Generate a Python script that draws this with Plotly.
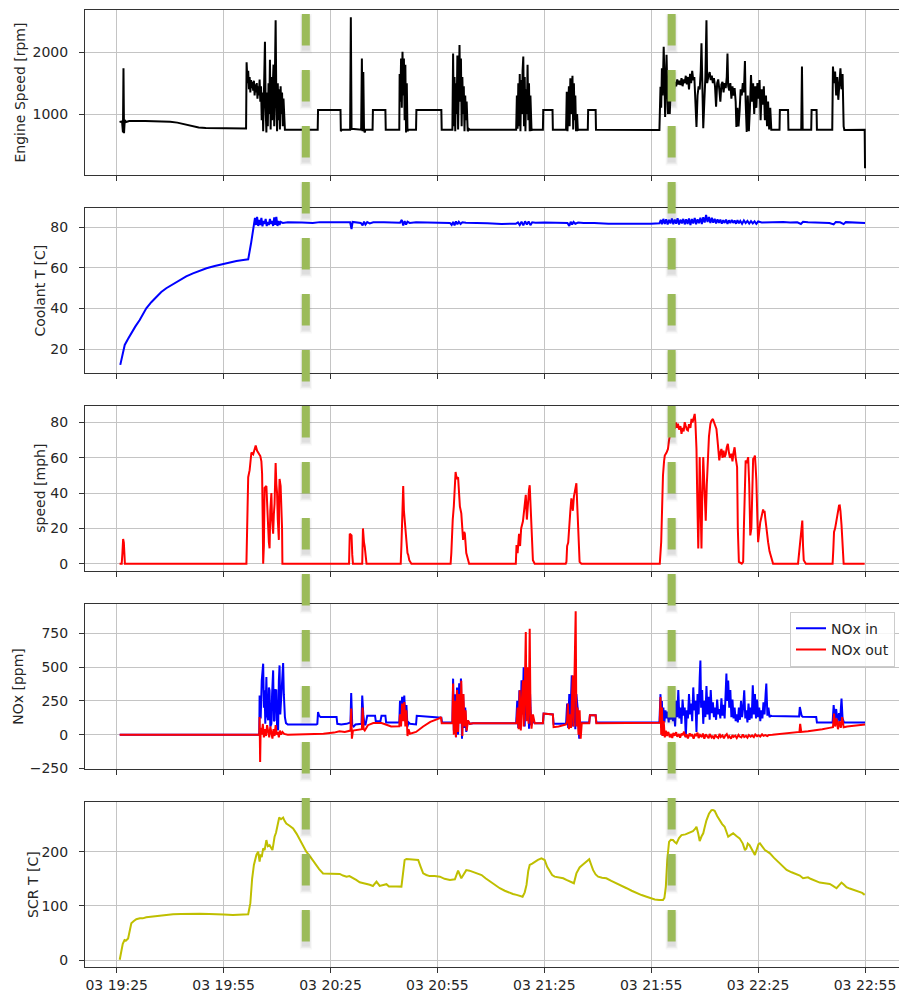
import pandas as pd
import plotly.graph_objects as go
from plotly.subplots import make_subplots

# ---------------------------------------------------------------- geometry
FIG_W, FIG_H = 899, 992
PLOT_LEFT = 85            # px, left edge of the plotting area
PANEL_TOP0 = 10           # px, top of the first panel
PANEL_STEP = 198.1        # px between the tops of consecutive panels
PANEL_H = 165             # px, height of one panel

START = pd.Timestamp("2020-03-03 19:25:00")
X_RANGE = ["2020-03-03 19:16:06", "2020-03-03 23:04:32"]
x_tick_times = pd.date_range("2020-03-03 19:25", "2020-03-03 22:55", freq="30min")
x_tick_text = [t.strftime("%d %H:%M") for t in x_tick_times]

# ---------------------------------------------------------------- data
# every series: (minutes after 19:25, value)
engine_rpm = [
    (0.8, 870), (1.5, 880), (1.75, 700), (1.9, 1740), (2.05, 690), (2.25, 900), (2.6, 870),
    (3.5, 885), (8, 885), (12, 882), (15, 875), (17, 860), (19, 830), (21, 800), (23, 782),
    (25, 772), (30, 768), (36.3, 765),
    (36.45, 1840), (36.7, 1500), (36.9, 1700), (37.1, 1400), (37.3, 1600), (37.5, 1350),
    (37.7, 1550), (37.9, 1420), (38.1, 1520), (38.3, 1380), (38.5, 1540), (38.7, 1300),
    (38.9, 1480), (39.1, 1350), (39.3, 1500), (39.5, 1250), (39.7, 1450), (39.9, 1300),
    (40.1, 1560), (40.3, 1200), (40.5, 1450), (40.7, 900), (40.9, 1350), (41.1, 720),
    (41.3, 1300), (41.6, 2170), (41.8, 1100), (42.0, 700), (42.2, 1350), (42.4, 800),
    (42.6, 1500), (42.8, 1000), (43.0, 1880), (43.2, 750), (43.4, 1600), (43.6, 900),
    (43.8, 1450), (44.0, 1800), (44.2, 800), (44.4, 1700), (44.6, 2520), (44.8, 1200),
    (45.0, 720), (45.2, 1500), (45.4, 900), (45.6, 1400), (45.8, 750), (46.0, 1450),
    (46.2, 1000), (46.4, 1350), (46.6, 800), (46.8, 1250), (47.0, 760), (47.2, 745),
    (56.4, 745), (56.5, 1065), (62.8, 1065), (62.9, 720), (63.2, 745), (65.5, 745),
    (65.7, 2570), (65.9, 760), (68.6, 745), (68.8, 1900), (69.0, 720), (69.2, 1680),
    (69.4, 740), (69.6, 700), (69.8, 745), (71.8, 745), (71.9, 1065), (75.4, 1065),
    (75.5, 745), (79.3, 745),
    (79.4, 1650), (79.6, 1200), (79.8, 1900), (80.0, 1100), (80.2, 2010), (80.4, 1300),
    (80.6, 1900), (80.8, 900), (81.0, 1800), (81.2, 700), (81.4, 1500), (81.6, 720),
    (81.8, 745), (84.0, 745), (84.1, 1065), (91.1, 1065), (91.2, 745), (94.2, 745),
    (94.4, 1980), (94.6, 800), (94.8, 1600), (95.0, 720), (95.2, 1500), (95.4, 1000),
    (95.6, 1950), (95.8, 750), (96.0, 1750), (96.2, 2120), (96.4, 1200), (96.6, 1900),
    (96.8, 800), (97.0, 1600), (97.2, 1000), (97.4, 1450), (97.6, 720), (97.8, 1300),
    (98.0, 900), (98.2, 1200), (98.5, 720), (98.8, 760), (99.1, 745), (112.1, 745),
    (112.3, 1300), (112.5, 760), (112.7, 1500), (112.9, 800), (113.1, 1650), (113.3, 720),
    (113.5, 1550), (113.7, 1000), (113.9, 1700), (114.1, 1930), (114.3, 800), (114.5, 1600),
    (114.7, 720), (114.9, 1400), (115.1, 1000), (115.3, 1800), (115.5, 900), (115.7, 1500),
    (115.9, 720), (116.1, 1300), (116.4, 740), (116.8, 745), (119.6, 745), (119.7, 1065),
    (122.3, 1065), (122.4, 745), (126.1, 745),
    (126.3, 1360), (126.5, 720), (126.7, 1200), (126.9, 1450), (127.1, 800), (127.3, 1580),
    (127.5, 1000), (127.7, 1400), (127.9, 1620), (128.1, 750), (128.3, 1500), (128.5, 900),
    (128.7, 1300), (128.9, 720), (129.2, 1000), (129.4, 740), (129.6, 745), (132.2, 745),
    (132.3, 1065), (134.4, 1065), (134.5, 745), (152.3, 740),
    (152.6, 1440), (152.8, 1100), (153.0, 1740), (153.2, 1300), (153.5, 2090), (153.7, 1600),
    (153.9, 950), (154.1, 1500), (154.3, 1960), (154.5, 1400), (154.7, 1000), (154.9, 1600),
    (155.2, 1000), (155.5, 1450), (155.8, 1250), (156.1, 1550), (156.4, 1400), (156.7, 1520),
    (157.0, 1450), (157.3, 1560), (157.6, 1480), (157.9, 1540), (158.2, 1470), (158.5, 1580),
    (158.8, 1450), (159.1, 1560), (159.4, 1500), (159.7, 1620), (160.0, 1480), (160.3, 1600),
    (160.6, 1400), (160.9, 1650), (161.2, 1500), (161.5, 1700), (161.8, 1550), (162.1, 1600),
    (162.4, 1100), (162.7, 790), (163.0, 1300), (163.3, 1450), (163.6, 1400), (163.9, 1700),
    (164.1, 2145), (164.3, 1300), (164.6, 770), (164.9, 1200), (165.2, 1600), (165.5, 2520),
    (165.7, 1500), (166.0, 1600), (166.4, 1680), (166.7, 1550), (167.0, 1620), (167.3, 1500),
    (167.6, 1580), (167.9, 1450), (168.2, 1120), (168.5, 1500), (168.8, 1560), (169.1, 1400),
    (169.4, 1200), (169.7, 1480), (170.0, 1520), (170.3, 1350), (170.6, 1500), (170.9, 1420),
    (171.2, 1600), (171.4, 1980), (171.6, 1450), (171.9, 1380), (172.2, 1500), (172.5, 1250),
    (172.8, 1450), (173.1, 1300), (173.4, 1420), (173.7, 1200), (173.9, 790), (174.2, 1100),
    (174.5, 800), (174.8, 1050), (175.1, 1400), (175.4, 1300), (175.7, 1500), (176.0, 1350),
    (176.3, 1860), (176.5, 1200), (176.8, 710), (177.1, 1300), (177.4, 720), (177.7, 1100),
    (178.0, 1630), (178.3, 1200), (178.6, 1500), (178.9, 1000), (179.2, 1450), (179.5, 1100),
    (179.8, 1500), (180.1, 1250), (180.4, 1550), (180.7, 900), (181.0, 1400), (181.3, 1150),
    (181.6, 1450), (181.9, 900), (182.2, 1300), (182.5, 800), (182.8, 1200), (183.1, 750),
    (183.4, 1100), (183.7, 745),
    (186.0, 745), (186.1, 1065), (188.4, 1065), (188.5, 745), (192.1, 745), (192.3, 1770),
    (192.5, 745), (194.9, 745), (195.0, 1065), (196.4, 1065), (196.5, 745), (200.8, 745),
    (201.0, 1770), (201.3, 1500), (201.6, 1690), (201.9, 1300), (202.2, 1600), (202.5, 1230),
    (202.8, 1500), (203.1, 1740), (203.4, 1400), (203.7, 1650), (204.0, 800), (204.2, 740),
    (209.9, 745), (210.0, 120),
]

coolant_c = [
    (1.0, 12.2), (1.5, 16), (2.25, 22), (3.2, 25), (4.1, 27.8), (5.2, 31), (6.45, 34.3),
    (7.3, 37), (8.3, 40), (9.7, 43), (11.1, 45.7), (12.5, 48), (13.9, 49.9), (15.8, 52),
    (17.7, 54), (19.5, 55.7), (21.4, 57.2), (23.3, 58.5), (25.2, 59.7), (27.5, 60.8),
    (29.8, 61.8), (31.7, 62.6), (33.6, 63.3), (35.5, 63.8), (36.9, 64.1), (37.7, 72),
    (38.5, 82.1), (38.8, 84.5), (39.1, 81), (39.4, 85), (39.7, 80.5), (40.0, 83.5),
    (40.3, 81), (40.6, 84.5), (40.9, 80.3), (41.2, 83), (41.5, 81.5), (41.8, 84), (42.1, 80.5),
    (42.4, 82.5), (42.7, 81), (43.0, 84), (43.3, 81.5), (43.6, 83), (43.9, 80.5), (44.2, 84.7),
    (44.5, 81), (44.8, 85), (45.1, 80.5), (45.4, 83), (45.7, 81), (46.0, 82.5), (46.6, 82),
    (48, 82.3), (52, 82.2), (55, 82.0), (57, 82.4), (60, 82.5), (63, 82.4), (65.5, 82.3),
    (65.9, 79), (66.2, 82.5), (67, 82.3), (68.5, 82.0), (69.0, 80.8), (69.4, 82.6),
    (69.8, 81.2), (70.3, 82.4), (71, 81.8), (72, 82.3), (75, 82.3), (79.5, 82.1), (80.0, 83.5),
    (80.4, 80.8), (80.8, 82.9), (81.2, 81.2), (81.6, 82.6), (82.2, 82.0), (84, 82.3),
    (90, 82.2), (93.5, 82.0), (94.0, 81), (94.4, 82.5), (94.8, 80.8), (95.2, 82.8),
    (95.6, 81.3), (96.0, 82.6), (96.5, 81.5), (97.0, 82.3), (98, 82.1), (100, 82.1),
    (104, 81.8), (108, 81.5), (112, 81.6), (112.6, 82.3), (113.1, 81.0), (113.6, 82.6),
    (114.1, 80.8), (114.6, 82.8), (115.1, 81.2), (115.6, 82.7), (116.1, 80.9), (116.6, 82.3),
    (117.5, 82.1), (120, 82.2), (124, 82.2), (126.5, 82.0), (127.0, 80.5), (127.4, 82.6),
    (127.8, 81.2), (128.2, 82.5), (128.7, 81.6), (129.5, 82.2), (131, 82.0), (134, 82.0),
    (138, 81.6), (142, 81.5), (146, 81.5), (150, 81.6), (152.3, 81.8), (152.7, 83.5),
    (153.0, 81.3), (153.4, 84.0), (153.8, 81.5), (154.2, 83.8), (154.6, 81.2), (155.0, 83.5),
    (155.4, 81.8), (155.8, 84.2), (156.2, 81.4), (156.6, 83.7), (157.0, 81.6), (157.4, 84.3),
    (157.8, 81.2), (158.2, 83.6), (158.6, 81.8), (159.0, 84.0), (159.4, 81.3), (159.8, 83.8),
    (160.2, 81.5), (160.6, 84.2), (161.0, 81.0), (161.4, 83.9), (161.8, 81.7), (162.2, 84.4),
    (162.6, 81.4), (163.0, 83.8), (163.4, 81.9), (163.8, 84.6), (164.2, 81.5), (164.6, 84.8),
    (165.0, 82.2), (165.4, 85.9), (165.8, 82.5), (166.2, 84.9), (166.6, 82.0), (167.0, 84.5),
    (167.4, 82.1), (167.8, 84.0), (168.2, 81.8), (168.6, 83.8), (169.0, 82.0), (169.4, 83.6),
    (169.8, 81.7), (170.2, 83.4), (170.6, 82.0), (171.0, 83.6), (171.4, 81.5), (171.8, 83.3),
    (172.2, 81.9), (172.6, 83.5), (173.0, 82.0), (173.4, 83.2), (173.8, 81.6), (174.2, 83.4),
    (174.6, 81.8), (175.0, 83.0), (175.5, 81.6), (176.0, 83.2), (176.5, 81.9), (177.0, 83.0),
    (177.5, 81.7), (178.0, 82.9), (178.5, 81.8), (179.0, 82.8), (179.5, 81.6), (180.0, 82.7),
    (181.0, 82.2), (183, 82.4), (185, 82.3), (187, 82.5), (189, 82.2), (191, 82.3),
    (192, 81.5), (192.6, 82.6), (194, 82.3), (196, 82.2), (198, 82.3), (200, 82.0),
    (201.2, 81.3), (201.8, 82.5), (203, 82.3), (204.0, 81.4), (204.6, 82.4), (206, 82.3),
    (208, 82.1), (210, 82.0),
]

vehicle_mph = [
    (0.8, 0), (1.4, 0), (1.6, 6), (1.8, 14), (2.0, 12), (2.3, 0), (36.4, 0), (36.6, 30),
    (36.9, 49), (37.3, 53), (37.8, 63), (38.3, 62), (38.6, 65), (39.0, 67), (39.4, 64),
    (39.7, 63), (40.0, 62), (40.3, 61), (40.6, 58), (40.8, 51), (41.0, 20), (41.1, 0),
    (41.3, 10), (41.5, 43), (42.0, 44), (42.25, 25), (42.5, 21), (42.7, 12), (42.9, 8.7),
    (43.1, 30), (43.4, 40), (43.6, 25), (43.9, 17), (44.1, 28), (44.3, 34), (44.5, 50),
    (44.6, 57), (44.8, 45), (45.0, 40), (45.2, 25), (45.5, 13.5), (45.6, 40), (45.7, 48),
    (46.0, 44), (46.2, 36), (46.4, 20), (46.5, 0), (47.2, 0),
    (65.2, 0), (65.4, 17), (65.9, 16), (66.1, 5), (66.3, 0), (68.9, 0), (69.1, 20), (69.4, 12),
    (69.6, 9.6), (70.1, 0), (79.7, 0), (79.9, 10.6), (80.2, 30), (80.4, 44), (80.6, 30),
    (80.8, 23), (81.1, 15), (81.3, 13), (81.6, 6), (81.8, 5), (82.1, 2), (82.7, 0),
    (93.7, 0), (93.9, 6), (94.3, 25), (94.6, 32.5), (95.1, 52), (95.4, 48), (95.8, 49),
    (96.1, 40), (96.3, 32.5), (96.7, 28.5), (96.9, 20), (97.2, 13.5), (97.5, 18), (97.7, 17),
    (98.1, 6), (98.5, 3), (98.9, 0), (112.0, 0), (112.2, 10.6), (112.5, 6), (112.9, 17),
    (113.2, 10), (113.5, 20), (114.0, 24), (114.3, 30), (114.6, 36), (114.8, 39), (115.1, 25),
    (115.4, 35), (115.7, 42), (115.9, 44.5), (116.2, 30), (116.4, 14.4), (116.8, 2),
    (117.3, 0), (126.0, 0), (126.2, 1), (126.4, 10), (126.7, 12), (127.0, 25), (127.3, 30),
    (127.6, 37), (128.0, 30), (128.3, 38), (128.5, 41), (128.8, 44), (129.0, 45.6),
    (129.2, 35), (129.5, 20), (129.9, 1), (130.4, 0),
    (152.4, 0), (152.8, 12.3), (153.0, 30), (153.3, 50), (153.6, 58), (153.8, 61.3),
    (154.3, 63), (154.7, 65), (155.0, 70), (155.3, 74), (155.7, 77.4), (156.0, 75),
    (156.3, 78), (156.6, 76.4), (156.9, 80), (157.2, 77), (157.5, 79.3), (157.8, 76),
    (158.2, 78), (158.5, 73.6), (158.8, 77), (159.1, 75), (159.4, 80.2), (159.7, 78),
    (160.0, 76), (160.3, 75.5), (160.6, 79), (161.0, 77), (161.3, 82), (161.6, 80),
    (161.9, 83), (162.2, 84.9), (162.4, 80), (162.7, 65), (162.9, 40), (163.1, 15),
    (163.2, 8.6), (163.4, 30), (163.6, 60.4), (163.8, 40), (164.0, 15), (164.1, 8.6),
    (164.3, 35), (164.6, 60.4), (164.9, 45), (165.1, 30), (165.3, 24.4), (165.6, 45),
    (165.9, 62.3), (166.2, 72), (166.6, 79.2), (166.9, 81), (167.3, 82), (167.6, 80),
    (167.9, 79), (168.3, 76.4), (168.6, 70), (168.8, 64), (169.1, 58.5), (169.4, 63),
    (169.7, 65), (170.0, 60), (170.3, 64), (170.6, 60.4), (170.9, 62), (171.2, 66),
    (171.5, 67.9), (171.8, 63), (172.1, 60), (172.5, 62.3), (172.8, 58), (173.1, 63),
    (173.4, 66), (173.7, 60), (173.9, 57), (174.1, 54.7), (174.3, 20), (174.5, 2), (174.6, 1),
    (175.4, 0), (175.8, 1), (176.0, 20), (176.2, 45), (176.5, 58.5), (176.8, 57), (177.2, 60.4),
    (177.5, 45), (177.8, 16), (178.1, 20), (178.3, 45), (178.6, 59.4), (178.9, 60),
    (179.1, 61.3), (179.3, 55), (179.5, 47.2), (179.8, 25), (180.0, 12.2), (180.3, 18),
    (180.6, 23.5), (181.0, 27), (181.4, 30.8), (181.6, 29), (181.8, 30), (182.0, 26),
    (182.3, 20), (182.5, 15), (182.8, 12.2), (183.2, 7), (183.5, 4.7), (183.8, 2), (184.2, 0),
    (191.2, 0), (191.5, 6), (191.7, 12.2), (192.0, 18), (192.4, 24.4), (192.6, 10),
    (192.8, 2), (193.4, 0), (200.9, 0), (201.1, 8), (201.3, 18), (201.6, 20), (202.0, 25.4),
    (202.3, 28), (202.7, 32.9), (202.9, 33), (203.1, 30), (203.4, 22), (203.7, 6.6),
    (204.0, 0), (209.9, 0),
]

nox_in_ppm = [
    (0.84, 0), (40.0, 0), (40.1, 290), (40.4, 120), (40.7, 400), (41.1, 526), (41.3, 200),
    (41.5, 328), (41.7, 80), (42.0, 427), (42.2, 150), (42.5, 106), (42.7, 350), (42.9, 328),
    (43.1, 60), (43.4, 81), (43.6, 300), (43.9, 476), (44.1, 100), (44.3, 106), (44.5, 330),
    (44.8, 328), (45.0, 60), (45.3, 32), (45.5, 400), (45.7, 513), (45.9, 150), (46.2, 308),
    (46.4, 480), (46.7, 530), (46.9, 300), (47.2, 130), (47.5, 85), (48.0, 75), (56.0, 75),
    (56.3, 80), (56.5, 167), (56.8, 140), (57.2, 130), (61.7, 130), (61.9, 80), (63.0, 75),
    (64.5, 80), (65.6, 90), (65.8, 308), (66.1, 70), (66.5, 60), (67.0, 75), (68.7, 80),
    (68.9, 289), (69.2, 150), (69.5, 80), (69.8, 70), (70.3, 140), (72.5, 140), (72.7, 100),
    (74.0, 100), (74.3, 140), (75.4, 140), (75.6, 90), (79.3, 90), (79.5, 250), (79.8, 150),
    (80.1, 280), (80.4, 200), (80.7, 290), (81.0, 100), (81.3, 220), (81.6, 60), (81.9, 90),
    (82.3, 80), (84.0, 75), (84.2, 140), (90.7, 130), (91.1, 125), (91.3, 90), (94.2, 90),
    (94.4, 415), (94.6, 30), (94.9, 300), (95.2, -20), (95.5, 350), (95.8, 0), (96.1, 380),
    (96.3, 100), (96.6, 415), (96.9, -30), (97.2, 300), (97.5, 50), (97.8, 200), (98.1, 20),
    (98.5, 106), (99.0, 80), (100.0, 85), (112.1, 85), (112.4, 250), (112.7, 50), (113.0, 328),
    (113.3, 44), (113.6, 402), (113.9, 150), (114.2, 500), (114.5, 60), (114.8, 420),
    (115.1, 200), (115.4, 434), (115.7, 44), (116.0, 300), (116.3, 70), (116.8, 100),
    (117.3, 85), (119.6, 85), (119.8, 156), (122.4, 150), (122.6, 80), (126.1, 80),
    (126.4, 230), (126.7, 50), (127.0, 300), (127.3, 120), (127.7, 439), (128.0, 60),
    (128.4, 250), (128.7, 40), (129.0, 300), (129.4, 180), (129.8, -30), (130.3, 90),
    (132.6, 90), (132.8, 143), (134.4, 143), (134.6, 90), (152.3, 90),
    (152.6, 300), (152.8, 50), (153.0, 250), (153.2, -10), (153.4, 200), (153.7, 90),
    (154.0, 180), (154.3, 120), (154.6, 170), (154.9, 90), (155.2, 220), (155.5, 110),
    (155.8, 280), (156.1, 100), (156.4, 180), (156.7, 60), (157.0, 250), (157.3, 130),
    (157.6, 330), (157.9, 120), (158.2, 200), (158.5, 80), (158.8, 260), (159.1, 140),
    (159.4, 200), (159.7, -20), (160.0, 180), (160.3, 120), (160.6, 300), (160.9, 150),
    (161.2, 230), (161.5, 100), (161.8, 350), (162.1, 180), (162.4, 250), (162.7, 20),
    (163.0, 300), (163.3, 150), (163.6, 420), (163.8, 550), (164.0, 200), (164.3, 330),
    (164.6, 80), (164.9, 250), (165.2, 130), (165.5, 360), (165.8, 150), (166.1, 280),
    (166.4, 110), (166.7, 330), (167.0, 160), (167.3, 240), (167.6, 130), (167.9, 200),
    (168.2, 110), (168.5, 260), (168.8, 150), (169.1, 190), (169.4, 120), (169.7, 270),
    (170.0, 140), (170.3, 220), (170.6, 120), (170.9, 380), (171.1, 452), (171.3, 250),
    (171.6, 400), (171.9, 200), (172.2, 330), (172.5, 130), (172.8, 260), (173.1, 120),
    (173.4, 200), (173.7, 100), (174.0, 150), (174.3, 90), (174.6, 200), (174.9, 110),
    (175.2, 250), (175.5, 130), (175.8, 200), (176.1, 328), (176.4, 120), (176.7, 180),
    (177.0, 90), (177.3, 230), (177.6, 110), (177.9, 200), (178.2, 120), (178.5, 365),
    (178.8, 150), (179.1, 300), (179.4, 120), (179.7, 260), (180.0, 130), (180.3, 200),
    (180.6, 100), (180.9, 180), (181.2, 120), (181.5, 240), (181.8, 150), (182.1, 300),
    (182.3, 378), (182.6, 140), (182.9, 200), (183.2, 130), (183.5, 140), (183.8, 138),
    (191.5, 135), (191.7, 205), (192.2, 140), (192.5, 132), (196.3, 130), (196.5, 90),
    (200.9, 90), (201.2, 220), (201.5, 110), (201.9, 190), (202.3, 95), (202.7, 160),
    (203.0, 100), (203.4, 267), (203.7, 120), (204.1, 90), (210.0, 90),
]

nox_out_ppm = [
    (0.84, 0), (40.0, 0), (40.1, 130), (40.25, -203), (40.4, 50), (40.7, 0), (41.0, 80),
    (41.3, -20), (41.6, 40), (41.9, -10), (42.2, 70), (42.5, 10), (42.8, -20), (43.1, 60),
    (43.4, 0), (43.7, -30), (44.0, 40), (44.3, -10), (44.6, 70), (44.9, 0), (45.2, 20),
    (45.5, -20), (45.8, 30), (46.1, 0), (46.5, 20), (47.0, 5), (48.0, 0), (55.0, 2),
    (58.0, 6), (61.0, 15), (62.5, 25), (64.0, 20), (65.6, 30), (65.8, 193), (66.0, -30),
    (66.3, 30), (68.0, 35), (68.8, 40), (69.0, 200), (69.3, 40), (69.6, 30), (70.5, 70),
    (72.0, 86), (74.3, 86), (75.5, 75), (77.0, 60), (79.3, 62), (79.5, 150), (79.8, 60),
    (80.1, 230), (80.4, 100), (80.7, 241), (81.0, 60), (81.3, 180), (81.6, -10), (81.9, 40),
    (82.3, 7), (84.0, 20), (86.0, 60), (88.0, 95), (90.5, 120), (91.0, 130), (91.2, 85),
    (94.2, 85), (94.4, 378), (94.6, 0), (94.9, 250), (95.2, -20), (95.5, 330), (95.8, 20),
    (96.1, 300), (96.4, 80), (96.7, 400), (97.0, -10), (97.3, 300), (97.6, 60), (97.9, 180),
    (98.2, 30), (98.6, 106), (99.1, 80), (100.0, 85), (112.2, 85), (112.5, 200), (112.8, 40),
    (113.1, 328), (113.4, 30), (113.7, 250), (114.0, 402), (114.2, 60), (114.5, 300),
    (114.8, 760), (115.0, 100), (115.3, 500), (115.6, 80), (115.9, 785), (116.1, 200),
    (116.4, 44), (116.8, 150), (117.3, 85), (119.6, 85), (119.8, 156), (122.4, 150),
    (122.6, 55), (124.0, 60), (126.1, 75), (126.4, 100), (126.6, 230), (126.9, 40),
    (127.2, 150), (127.5, 50), (127.8, 300), (128.0, 439), (128.2, 60), (128.5, 400),
    (128.8, 915), (129.0, 60), (129.3, 200), (129.6, 0), (129.9, 180), (130.2, -30),
    (130.5, 85), (132.6, 85), (132.8, 143), (134.4, 143), (134.6, 85), (152.3, 88),
    (152.4, 90), (152.6, 278), (152.8, 0), (153.0, 200), (153.2, -10), (153.5, 100),
    (153.8, -20), (154.1, 30), (154.4, -10), (154.8, 20), (155.2, -20), (155.5, 5),
    (155.9, -25), (156.2, 12), (156.6, -8), (157.0, 18), (157.3, -15), (157.8, 5),
    (158.1, -22), (158.5, 8), (158.8, -5), (159.2, 22), (159.6, -18), (160.0, 0),
    (160.3, -28), (160.8, 10), (161.1, -12), (161.4, 3), (161.9, -30), (162.3, 6),
    (162.6, -10), (163.0, 14), (163.3, -25), (163.7, -2), (164.2, -18), (164.5, 8),
    (164.9, -30), (165.3, 2), (165.6, -12), (166.1, -26), (166.4, 4), (166.9, -20),
    (167.2, -8), (167.6, -32), (168.0, 0), (168.3, -15), (168.8, -24), (169.2, 6),
    (169.5, -18), (170.0, -6), (170.4, -28), (170.7, -10), (171.2, 4), (171.6, -22),
    (171.9, -12), (172.4, -30), (172.8, -4), (173.1, -16), (173.6, -8), (174.0, -25),
    (174.5, -2), (174.8, -14), (175.3, -20), (175.7, 2), (176.1, -18), (176.6, -9),
    (177.0, -22), (177.4, -3), (177.9, -15), (178.3, -6), (178.8, -19), (179.2, 1),
    (179.7, -12), (180.1, -4), (180.6, -14), (181.1, 2), (181.5, -9), (182.0, -3),
    (182.6, -10), (183.0, -2), (184.0, 0), (186.0, 5), (188.0, 10), (190.0, 15),
    (191.6, 20), (191.8, 80), (192.1, 20), (194.0, 25), (196.0, 30), (198.0, 40),
    (200.0, 50), (201.0, 55), (201.3, 156), (201.6, 60), (202.0, 120), (202.4, 40),
    (202.8, 100), (203.2, 50), (203.6, 130), (204.0, 55), (205.0, 60), (207.0, 68),
    (210.0, 75),
]

scr_temp_c = [
    (0.84, 0.5), (1.3, 16), (1.7, 30), (2.2, 37), (2.6, 36), (3.2, 40), (3.6, 52), (4.1, 68),
    (4.8, 72), (5.5, 75.5), (6.5, 77), (7.3, 77), (8.3, 79), (9.5, 80), (10.5, 79.5),
    (12.1, 82), (14, 83), (15.8, 84.7), (18, 85), (20, 85.5), (23.3, 85.3), (26, 85),
    (28, 84), (30, 84.2), (32.6, 83.4), (35, 84), (36.9, 84.7), (37.5, 105), (38.0, 150),
    (38.5, 175.5), (39.2, 194), (39.7, 200), (40.1, 181.6), (40.4, 195), (40.7, 190),
    (41.1, 206), (41.5, 203), (42.0, 221.5), (42.4, 210), (42.9, 212), (43.3, 206),
    (43.7, 203), (44.0, 215), (44.3, 227.6), (44.7, 235), (45.0, 243), (45.3, 255),
    (45.6, 263), (46.1, 260), (46.7, 263), (47.1, 257), (47.6, 252), (48.5, 248),
    (49.5, 243), (50.5, 233), (51.4, 221.5), (52.3, 210), (53.2, 200), (54.4, 190),
    (55.6, 178.6), (56.8, 168), (57.9, 160), (59.3, 160), (60.7, 160), (62.6, 159),
    (63.5, 156), (64.5, 154), (65.3, 155), (66.3, 152), (67.2, 148), (68.2, 143.6),
    (69.2, 142), (70.1, 141.8), (71.0, 139), (71.9, 136.8), (72.9, 144.8), (73.8, 136.8),
    (74.7, 138), (75.7, 140), (76.4, 136), (77.1, 135.6), (78.5, 136), (79.9, 135.6),
    (80.4, 170), (80.8, 184.7), (81.3, 186.6), (83, 185.5), (84.6, 184.7), (85.3, 172),
    (86.0, 160), (86.9, 157), (87.8, 155), (89.2, 155), (90.7, 154), (92.0, 150),
    (93.5, 148), (94.9, 149), (95.8, 165), (96.7, 151), (97.4, 160), (98.1, 166), (99, 165),
    (100.0, 163), (101.2, 160), (102.4, 157), (103.5, 151), (104.7, 145), (106.1, 138),
    (107.5, 132.6), (108.9, 128), (110.3, 123.4), (111.2, 122), (112.2, 120.3), (113.0, 119),
    (113.9, 117), (114.5, 125), (115.0, 138.7), (115.5, 165), (115.9, 175.5), (116.6, 178),
    (117.3, 181.6), (118.2, 185), (119.2, 187.8), (120.1, 184.7), (120.8, 172), (121.5, 163),
    (122.2, 157), (122.9, 154), (124.1, 152), (125.3, 151), (126.2, 148), (127.1, 145),
    (127.7, 143), (128.3, 141.8), (129.0, 160), (129.9, 171), (130.6, 175), (131.3, 178.6),
    (132.0, 182), (132.6, 186), (133.2, 175), (133.7, 166), (134.4, 158), (135.1, 154),
    (136.2, 152), (137.4, 151), (138.8, 146), (140.3, 141.8), (141.7, 137), (143.1, 132.6),
    (144.5, 128), (145.9, 123.4), (147.3, 120), (148.7, 117), (149.8, 114), (151.0, 112),
    (152.2, 111), (153.3, 111), (153.7, 115), (154.1, 135.6), (154.5, 184.7), (155.0, 218),
    (155.5, 222), (156.1, 221.5), (156.6, 218), (157.1, 215.4), (157.8, 225), (158.5, 230.7),
    (159.6, 232), (160.8, 235), (161.7, 238), (162.3, 242), (162.7, 246), (163.2, 233),
    (163.6, 219.7), (164.1, 228), (164.6, 234), (165.0, 245), (165.5, 258), (166.2, 270),
    (166.9, 276.8), (167.3, 277), (167.8, 275.5), (168.5, 266), (169.2, 258), (169.9, 251),
    (170.6, 246), (171.1, 238), (171.6, 227.6), (172.3, 231), (173.0, 234), (173.9, 229),
    (174.8, 224.7), (175.7, 215), (176.3, 203), (176.7, 206), (177.1, 215), (177.6, 212),
    (178.3, 203), (179.1, 194), (179.7, 206), (180.1, 214), (180.5, 215.4), (181.2, 208),
    (181.9, 203), (182.6, 200), (183.3, 197), (184.4, 189), (185.6, 181.6), (186.8, 174),
    (188.0, 166.4), (189.4, 162), (190.8, 159), (191.7, 156), (192.6, 151), (193.3, 152),
    (194.0, 152.8), (194.7, 150), (195.4, 148), (196.3, 146), (197.3, 143), (198.7, 142),
    (200.1, 140.5), (201.0, 137), (202.0, 132.6), (202.7, 138), (203.4, 143), (204.1, 139),
    (204.8, 134.4), (205.7, 132), (206.7, 129.5), (207.6, 128), (208.5, 126.4), (209.2, 124),
    (209.9, 120.3),
]

# times of the two marked events (dashed green markers)
event_times = ["2020-03-03 20:18:04", "2020-03-03 22:00:44"]

# panel settings: axis title, y range, y ticks, title x position (px)
panel_titles = ["Engine Speed [rpm]", "Coolant T [C]", "speed [mph]", "NOx [ppm]", "SCR T [C]"]
panel_ranges = [[11, 2686], [8.15, 89.3], [-4.25, 89.25], [-257, 966], [-13.5, 291]]
panel_ticks = [[1000, 2000], [20, 40, 60, 80], [0, 20, 40, 60, 80],
               [-250, 0, 250, 500, 750], [0, 100, 200]]
title_px = [19, 40, 40, 18, 33]


def to_xy(pairs):
    mins, vals = zip(*pairs)
    return START + pd.to_timedelta(list(mins), unit="m"), list(vals)


TEXT = "#262626"
AX = "#333333"
GRID = "#c4c4c4"

fig = make_subplots(rows=5, cols=1, shared_xaxes=True)

series = [
    (1, engine_rpm, "black", None),
    (2, coolant_c, "#0000ff", None),
    (3, vehicle_mph, "#ff0000", None),
    (4, nox_in_ppm, "#0000ff", "NOx in"),
    (4, nox_out_ppm, "#ff0000", "NOx out"),
    (5, scr_temp_c, "#bfbf00", None),
]
for row, pairs, color, name in series:
    x, y = to_xy(pairs)
    fig.add_trace(
        go.Scatter(x=x, y=y, mode="lines", name=name or "",
                   line=dict(color=color, width=2),
                   showlegend=name is not None, hoverinfo="skip"),
        row=row, col=1,
    )

for i in range(5):
    top = PANEL_TOP0 + i * PANEL_STEP
    dom = [1 - (top + PANEL_H) / FIG_H, 1 - top / FIG_H]
    fig.update_yaxes(
        row=i + 1, col=1, domain=dom, range=panel_ranges[i],
        tickvals=panel_ticks[i], showgrid=True, gridcolor=GRID, gridwidth=1,
        zeroline=False, showline=True, linecolor=AX, linewidth=1, mirror=False,
        ticks="outside", ticklen=5, tickwidth=1, tickcolor=AX, ticklabelstandoff=8,
        tickfont=dict(size=14, color=TEXT), automargin=False,
    )
    fig.update_xaxes(
        row=i + 1, col=1, range=X_RANGE, type="date",
        tickvals=list(x_tick_times), ticktext=x_tick_text,
        showticklabels=(i == 4), showgrid=True, gridcolor=GRID, gridwidth=1,
        zeroline=False, showline=True, linecolor=AX, linewidth=1, mirror=True,
        ticks="outside", ticklen=5, tickwidth=1, tickcolor=AX,
        tickfont=dict(size=14, color=TEXT), automargin=False,
    )
    fig.add_annotation(
        text=panel_titles[i], xref="paper", yref="paper",
        x=(title_px[i] - PLOT_LEFT) / (FIG_W - PLOT_LEFT),
        y=1 - (top + PANEL_H / 2) / FIG_H,
        xanchor="center", yanchor="middle", textangle=-90, showarrow=False,
        font=dict(size=14, color=TEXT),
    )

# dashed green event markers with a soft drop shadow underneath
DASH_TOP, DASH_LEN, DASH_PERIOD, N_DASH, DASH_W = 14, 31.5, 56, 17, 8
SHADOW_DY = 4
for t in event_times:
    for k in range(N_DASH):
        y0 = DASH_TOP + k * DASH_PERIOD
        y1 = y0 + DASH_LEN
        for gx, gy, op in ((0, 1, 0.08), (1, 2.5, 0.06), (2, 4, 0.04)):
            fig.add_shape(
                type="rect", xref="x", yref="paper", xsizemode="pixel", xanchor=t,
                x0=-DASH_W / 2 - gx, x1=DASH_W / 2 + gx,
                y0=1 - (y0 + SHADOW_DY - gy) / FIG_H,
                y1=1 - (y1 + SHADOW_DY + gy) / FIG_H,
                fillcolor=f"rgba(60,60,60,{op})", line=dict(width=0), layer="above",
            )
        fig.add_shape(
            type="rect", xref="x", yref="paper", xsizemode="pixel", xanchor=t,
            x0=-DASH_W / 2, x1=DASH_W / 2,
            y0=1 - y0 / FIG_H, y1=1 - y1 / FIG_H,
            fillcolor="#9bbb59", line=dict(width=0), layer="above",
        )

fig.update_layout(
    width=FIG_W, height=FIG_H, autosize=False,
    margin=dict(l=PLOT_LEFT, r=0, t=0, b=0),
    paper_bgcolor="white", plot_bgcolor="white",
    font=dict(family="DejaVu Sans", size=14, color=TEXT),
    legend=dict(
        x=(895 - PLOT_LEFT) / (FIG_W - PLOT_LEFT), y=1 - 611.7 / FIG_H,
        xanchor="right", yanchor="top", bgcolor="rgba(255,255,255,0.85)",
        bordercolor="#cccccc", borderwidth=1, font=dict(size=14, color=TEXT),
    ),
    template="none",
)

fig.write_html("out.html")
